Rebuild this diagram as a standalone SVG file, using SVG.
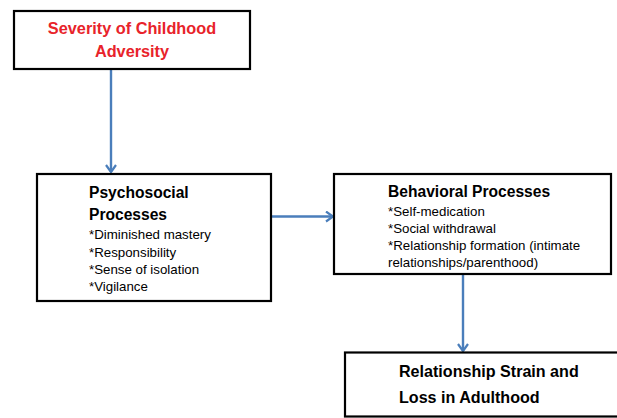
<svg xmlns="http://www.w3.org/2000/svg" width="617" height="418" viewBox="0 0 617 418">
<defs>
<marker id="ah" markerWidth="12" markerHeight="12" refX="8" refY="6" orient="auto" markerUnits="userSpaceOnUse">
<polyline points="1,1 8,6 1,11" fill="none" stroke="#4a7ebb" stroke-width="2.2" stroke-linejoin="miter"/>
</marker>
</defs>
<style>
.box{fill:#fff;stroke:#000;stroke-width:2.2}
.hd{font-family:"Liberation Sans",Arial,sans-serif;font-weight:bold;font-size:15.6px;fill:#000}
.it{font-family:"Liberation Sans",Arial,sans-serif;font-size:13.3px;fill:#000}
.title{font-family:"Liberation Sans",Arial,sans-serif;font-weight:bold;font-size:16.3px;fill:#e8232a}
.con{fill:none;stroke:#4a7ebb;stroke-width:2.4}
</style>
<rect width="617" height="418" fill="#fff"/>
<g id="connectors">
<line class="con" x1="111" y1="70" x2="111" y2="172" marker-end="url(#ah)"/>
<line class="con" x1="272" y1="216.5" x2="333" y2="216.5" marker-end="url(#ah)"/>
<line class="con" x1="463" y1="275" x2="463" y2="351" marker-end="url(#ah)"/>
</g>
<g id="severity">
<rect class="box" x="14" y="11" width="236" height="58"/>
<text class="title" x="132" y="34" text-anchor="middle">Severity of Childhood</text>
<text class="title" x="132" y="57" text-anchor="middle">Adversity</text>
</g>
<g id="psychosocial">
<rect class="box" x="37" y="174" width="234" height="127"/>
<text class="hd" x="89" y="198">Psychosocial</text>
<text class="hd" x="89" y="220">Processes</text>
<text class="it" x="89" y="239">*Diminished mastery</text>
<text class="it" x="89" y="256.5">*Responsibility</text>
<text class="it" x="89" y="274">*Sense of isolation</text>
<text class="it" x="89" y="291">*Vigilance</text>
</g>
<g id="behavioral">
<rect class="box" x="334" y="174" width="277" height="100"/>
<text class="hd" x="388" y="196.5">Behavioral Processes</text>
<text class="it" x="388" y="215.5">*Self-medication</text>
<text class="it" x="388" y="233">*Social withdrawal</text>
<text class="it" x="388" y="250">*Relationship formation (intimate</text>
<text class="it" x="388" y="267">relationships/parenthood)</text>
</g>
<g id="strain">
<rect class="box" x="345" y="352.5" width="280" height="64"/>
<text class="hd" x="399" y="376.5" style="font-size:16.1px">Relationship Strain and</text>
<text class="hd" x="399" y="403" style="font-size:16.1px">Loss in Adulthood</text>
</g>
</svg>
